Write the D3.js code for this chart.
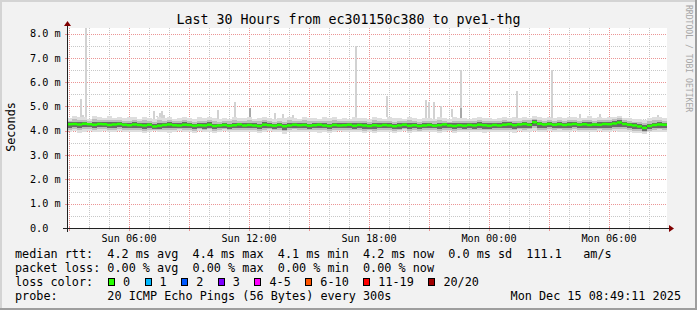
<!DOCTYPE html>
<html>
<head>
<meta charset="utf-8">
<script src="https://cdn.jsdelivr.net/npm/d3@7"></script>
<style>
html, body { margin: 0; padding: 0; background: #f2f2f2; }
svg { display: block; }
text { font-family: "DejaVu Sans Mono", monospace; fill: #000; white-space: pre; }
</style>
</head>
<body>
<div id="chart"></div>
<script>
// ---- data (15 minute columns from Sun 02:54) ----
var medianRtt = [
  4.27,4.28,4.26,4.29,4.27,4.25,4.28,4.27,4.24,4.26,4.28,4.25,
  4.23,4.26,4.24,4.22,4.25,4.18,4.21,4.24,4.26,4.23,4.22,4.25,
  4.24,4.21,4.23,4.22,4.25,4.20,4.22,4.24,4.21,4.23,4.26,4.22,
  4.24,4.22,4.20,4.25,4.23,4.21,4.24,4.19,4.22,4.25,4.23,4.24,
  4.21,4.23,4.25,4.22,4.20,4.24,4.22,4.23,4.25,4.21,4.24,4.22,
  4.20,4.23,4.21,4.24,4.22,4.19,4.22,4.25,4.21,4.23,4.20,4.22,
  4.24,4.21,4.23,4.26,4.22,4.20,4.23,4.21,4.24,4.22,4.25,4.23,
  4.21,4.24,4.22,4.25,4.27,4.23,4.26,4.28,4.25,4.35,4.29,4.26,
  4.28,4.25,4.27,4.24,4.26,4.28,4.25,4.27,4.24,4.26,4.25,4.28,
  4.27,4.30,4.34,4.28,4.25,4.22,4.18,4.12,4.20,4.24,4.26,4.25
];
var pingMin = [
  3.95,3.98,3.92,3.96,4.00,3.94,3.97,3.99,3.93,3.96,3.98,3.95,
  3.97,3.93,3.96,3.90,3.95,3.98,3.94,3.97,3.92,3.96,3.99,3.95,
  3.96,3.92,3.98,3.94,3.97,3.91,3.95,3.98,3.93,3.96,3.94,3.97,
  3.93,3.97,3.90,3.95,3.98,3.94,3.96,3.88,3.95,3.97,3.93,3.96,
  3.94,3.97,3.92,3.96,3.90,3.95,3.98,3.93,3.96,3.94,3.97,3.92,
  3.95,3.91,3.96,3.93,3.97,3.90,3.94,3.98,3.92,3.95,3.93,3.96,
  3.94,3.97,3.91,3.95,3.98,3.92,3.96,3.93,3.97,3.94,3.96,3.92,
  3.95,3.93,3.97,3.94,3.96,3.92,3.98,3.95,3.97,3.99,3.94,3.96,
  3.98,3.94,3.97,3.95,3.93,3.98,3.96,3.94,3.97,3.95,3.99,3.93,
  3.96,3.98,3.95,3.97,3.94,3.92,3.90,3.88,3.93,3.95,3.97,3.94
];
var pingMax = [
  4.52,4.60,4.55,4.58,4.50,4.62,4.56,4.53,4.59,4.54,4.57,4.51,
  4.55,4.58,4.50,4.56,4.53,4.49,4.57,4.52,4.55,4.50,4.54,4.58,
  4.53,4.49,4.55,4.51,4.57,4.52,4.48,4.54,4.50,4.56,4.53,4.51,
  4.55,4.50,4.53,4.58,4.52,4.49,4.54,4.51,4.56,4.52,4.50,4.55,
  4.51,4.54,4.49,4.55,4.52,4.57,4.50,4.53,4.49,4.55,4.51,4.54,
  4.50,4.56,4.52,4.48,4.55,4.51,4.53,4.50,4.57,4.52,4.49,4.54,
  4.53,4.50,4.56,4.52,4.49,4.55,4.51,4.54,4.50,4.53,4.57,4.51,
  4.54,4.50,4.53,4.56,4.52,4.55,4.51,4.58,4.54,4.60,4.55,4.52,
  4.56,4.53,4.58,4.51,4.55,4.57,4.52,4.54,4.59,4.53,4.56,4.52,
  4.55,4.58,4.62,4.54,4.51,4.49,4.50,4.46,4.52,4.55,4.58,4.53
];
// single slow pings (hours after start, top in ms, top of darker part)
var spikeHour = [0.68,0.80,0.93,4.35,4.50,4.63,4.75,4.85,7.53,8.38,9.15,10.40,10.80,11.30,
                 14.45,16.00,17.93,18.08,18.33,18.70,19.25,19.70,22.50,24.25,25.65,26.65,29.55];
var spikeTop  = [5.32,4.65,8.23,4.83,4.60,4.72,4.80,4.65,4.87,5.17,4.95,4.74,4.68,4.65,
                 7.50,5.42,5.28,5.20,5.17,5.00,4.90,6.50,5.65,6.50,4.70,4.70,4.65];
var spikeDark = [0,0,0,0,0,0,0,0,0,0,4.95,0,0,0,
                 0,0,0,0,0,0,0,4.95,0,0,0,0,0];

var yTicks = [0,1,2,3,4,5,6,7,8];
var lossLabels = ["0","1","2","3","4-5","6-10","11-19","20/20"];
var lossColors = ["#26ff00","#00b8ff","#0059ff","#7e00ff","#ff00ff","#ff5500","#ff0000","#a10000"];

var title = "Last 30 Hours from ec301150c380 to pve1-thg";
var legendRtt  = "median rtt:  4.2 ms avg  4.4 ms max  4.1 ms min  4.2 ms now  0.0 ms sd  111.1   am/s";
var legendLoss = "packet loss: 0.00 % avg  0.00 % max  0.00 % min  0.00 % now";
var legendProbe = "probe:       20 ICMP Echo Pings (56 Bytes) every 300s";
var stamp = "Mon Dec 15 08:49:11 2025";

// ---- layout ----
var width = 697, height = 310;
var x0 = 67, xs = 600, y0 = 228, ys = 200;

var svg = d3.select("#chart").append("svg")
    .attr("width", width)
    .attr("height", height);

// frame
svg.append("rect").attr("width", width).attr("height", height).attr("fill", "#f2f2f2");
svg.append("rect").attr("x", 0).attr("y", 0).attr("width", width).attr("height", 2).attr("fill", "#d4d4d4");
svg.append("rect").attr("x", 0).attr("y", 0).attr("width", 2).attr("height", height).attr("fill", "#d4d4d4");
svg.append("rect").attr("x", 0).attr("y", height - 2).attr("width", width).attr("height", 2).attr("fill", "#9e9e9e");
svg.append("rect").attr("x", width - 2).attr("y", 0).attr("width", 2).attr("height", height).attr("fill", "#9e9e9e");

var t0 = new Date(2025, 11, 14, 2, 54);
var t1 = new Date(2025, 11, 15, 8, 54);

var x = d3.scaleTime().domain([t0, t1]).range([x0, x0 + xs]);
var y = d3.scaleLinear().domain([0, 8.23]).range([y0, y0 - ys]);

var colTime = medianRtt.map(function(d, i) { return d3.timeMinute.offset(t0, 15 * i); });

// canvas
svg.append("rect").attr("x", x0).attr("y", y0 - ys).attr("width", xs).attr("height", ys).attr("fill", "#fff");

// grid
var grid = svg.append("g").attr("shape-rendering", "crispEdges");
var minorH = d3.range(0.5, 8.23, 1);
grid.selectAll(".hmin").data(minorH).enter().append("line")
    .attr("x1", x0).attr("x2", x0 + xs)
    .attr("y1", function(d) { return Math.round(y(d)) + 0.5; })
    .attr("y2", function(d) { return Math.round(y(d)) + 0.5; })
    .attr("stroke", "#c8c8c8").attr("stroke-dasharray", "1,1");
var hours = x.ticks(d3.timeHour.every(1)).filter(function(d) { return d.getHours() % 3 !== 0; });
grid.selectAll(".vmin").data(hours).enter().append("line")
    .attr("x1", function(d) { return Math.round(x(d)) + 0.5; })
    .attr("x2", function(d) { return Math.round(x(d)) + 0.5; })
    .attr("y1", y0 - ys).attr("y2", y0)
    .attr("stroke", "#c8c8c8").attr("stroke-dasharray", "1,1");
grid.selectAll(".hmaj").data(yTicks.slice(1)).enter().append("line")
    .attr("x1", x0).attr("x2", x0 + xs)
    .attr("y1", function(d) { return Math.round(y(d)) + 0.5; })
    .attr("y2", function(d) { return Math.round(y(d)) + 0.5; })
    .attr("stroke", "#eb9595").attr("stroke-dasharray", "1,1");
var majors = x.ticks(d3.timeHour.every(3));
grid.selectAll(".vmaj").data(majors).enter().append("line")
    .attr("x1", function(d) { return Math.round(x(d)) + 0.5; })
    .attr("x2", function(d) { return Math.round(x(d)) + 0.5; })
    .attr("y1", y0 - ys).attr("y2", y0)
    .attr("stroke", "#eb9595").attr("stroke-dasharray", "1,1");

// smoke
var smoke = svg.append("g").attr("shape-rendering", "crispEdges");
var colW = function(i) { return x(d3.timeMinute.offset(colTime[i], 15)) - x(colTime[i]); };
var shades = [
  { up: 1.0,  dn: 1.0,  fill: "#dedede" },
  { up: 0.6,  dn: 0.7,  fill: "#bdbdbd" },
  { up: 0.3,  dn: 0.45, fill: "#6a6a6a" }
];
shades.forEach(function(s) {
  smoke.selectAll(null).data(medianRtt).enter().append("rect")
      .attr("x", function(d, i) { return x(colTime[i]); })
      .attr("width", function(d, i) { return colW(i); })
      .attr("y", function(d, i) { return y(d + (pingMax[i] - d) * s.up); })
      .attr("height", function(d, i) { return y(d - (d - pingMin[i]) * s.dn) - y(d + (pingMax[i] - d) * s.up); })
      .attr("fill", s.fill);
});

// spikes
var spikeX = function(h) { return x(d3.timeMinute.offset(t0, Math.round(h * 60))); };
var spikeBase = function(h) { return pingMax[Math.min(119, Math.floor(h * 4))]; };
smoke.selectAll(".spike").data(spikeHour).enter().append("rect")
    .attr("x", function(d) { return Math.round(spikeX(d)) - 1; })
    .attr("width", 2)
    .attr("y", function(d, i) { return y(spikeTop[i]); })
    .attr("height", function(d, i) { return y(spikeBase(d)) - y(spikeTop[i]); })
    .attr("fill", "#d2d2d2");
smoke.selectAll(".spiked").data(spikeHour).enter().filter(function(d, i) { return spikeDark[i] > 0; })
    .append("rect")
    .attr("x", function(d) { return Math.round(spikeX(d)) - 1; })
    .attr("width", 2)
    .attr("y", function(d) { return y(spikeDark[spikeHour.indexOf(d)]); })
    .attr("height", function(d) { return y(spikeBase(d)) - y(spikeDark[spikeHour.indexOf(d)]); })
    .attr("fill", "#a8a8a8");

// median
var medLine = d3.line()
    .x(function(d, i) { return x(colTime[i]) + colW(i) / 2; })
    .y(function(d) { return y(d); });
svg.append("path").datum(medianRtt)
    .attr("d", medLine)
    .attr("fill", "none").attr("stroke", "#000").attr("stroke-width", 1);
svg.append("g").selectAll("rect").data(medianRtt).enter().append("rect")
    .attr("x", function(d, i) { return x(colTime[i]); })
    .attr("width", function(d, i) { return colW(i); })
    .attr("y", function(d) { return y(d) - 1.25; })
    .attr("height", 2.5)
    .attr("fill", lossColors[0]);

// axes
var ax = svg.append("g").attr("shape-rendering", "crispEdges");
ax.selectAll(".xtm").data(hours).enter().append("line")
    .attr("x1", function(d) { return Math.round(x(d)) + 0.5; })
    .attr("x2", function(d) { return Math.round(x(d)) + 0.5; })
    .attr("y1", y0 - 1).attr("y2", y0 + 2).attr("stroke", "#c8c8c8");
ax.selectAll(".xtM").data(majors).enter().append("line")
    .attr("x1", function(d) { return Math.round(x(d)) + 0.5; })
    .attr("x2", function(d) { return Math.round(x(d)) + 0.5; })
    .attr("y1", y0 - 2).attr("y2", y0 + 3).attr("stroke", "#eb9595");
ax.selectAll(".ytM").data(yTicks).enter().append("line")
    .attr("x1", x0 - 2).attr("x2", x0 + 3)
    .attr("y1", function(d) { return Math.round(y(d)) + 0.5; })
    .attr("y2", function(d) { return Math.round(y(d)) + 0.5; })
    .attr("stroke", "#eb9595");
ax.append("line").attr("x1", x0 - 4).attr("x2", x0 + xs + 4).attr("y1", y0 + 0.5).attr("y2", y0 + 0.5).attr("stroke", "#212121");
ax.append("line").attr("x1", x0 + 0.5).attr("x2", x0 + 0.5).attr("y1", y0 + 4).attr("y2", y0 - ys - 4).attr("stroke", "#212121");
svg.append("path")
    .attr("d", "M" + (x0 + xs + 2) + "," + (y0 - 3) + "L" + (x0 + xs + 2) + "," + (y0 + 4) + "L" + (x0 + xs + 7) + "," + (y0 + 0.5) + "Z")
    .attr("fill", "#800000");
svg.append("path")
    .attr("d", "M" + (x0 - 3) + "," + (y0 - ys - 2) + "L" + (x0 + 4) + "," + (y0 - ys - 2) + "L" + (x0 + 0.5) + "," + (y0 - ys - 7) + "Z")
    .attr("fill", "#800000");

// tick labels
svg.selectAll(".ylab").data(yTicks).enter().append("text")
    .attr("x", 60.6)
    .attr("y", function(d) { return y(d); })
    .attr("dy", "0.36em")
    .attr("text-anchor", "end")
    .style("font-size", "10.2px")
    .text(function(d) { return d === 0 ? "0.0  " : d3.format(".1f")(d) + " m"; });
var fmt = d3.timeFormat("%a %H:%M");
svg.selectAll(".xlab").data(x.ticks(d3.timeHour.every(6))).enter().append("text")
    .attr("x", function(d) { return x(d); })
    .attr("y", 241.5)
    .attr("text-anchor", "middle")
    .style("font-size", "10.2px")
    .text(function(d) { return fmt(d); });

// titles
svg.append("text").attr("x", 348.5).attr("y", 24).attr("text-anchor", "middle")
    .style("font-size", "13.3px").text(title);
svg.append("text").attr("transform", "translate(15,127) rotate(-90)").attr("text-anchor", "middle")
    .style("font-size", "11.8px").text("Seconds");
svg.append("text").attr("transform", "translate(685.5,5) rotate(90)")
    .style("font-size", "8.1px").style("fill", "#a6a6a6").text("RRDTOOL / TOBI OETIKER");

// legend
var lf = "11.8px", cw = 7.12;
svg.append("text").attr("x", 15).attr("y", 258).style("font-size", lf).text(legendRtt);
svg.append("text").attr("x", 15).attr("y", 272).style("font-size", lf).text(legendLoss);
svg.append("text").attr("x", 15).attr("y", 286).style("font-size", lf).text("loss color:");
svg.append("text").attr("x", 15).attr("y", 300).style("font-size", lf).text(legendProbe);
svg.append("text").attr("x", 681).attr("y", 300).attr("text-anchor", "end").style("font-size", lf).text(stamp);

var bx = 108;
lossLabels.forEach(function(lab, i) {
  svg.append("rect").attr("x", bx + 0.5).attr("y", 278.5).attr("width", 6).attr("height", 7)
      .attr("fill", lossColors[i]).attr("stroke", "#000").attr("stroke-width", 1)
      .attr("shape-rendering", "crispEdges");
  svg.append("text").attr("x", bx + 15).attr("y", 286).style("font-size", lf).text(lab);
  bx = bx + 15 + lab.length * cw + 14.5;
});
</script>
</body>
</html>
